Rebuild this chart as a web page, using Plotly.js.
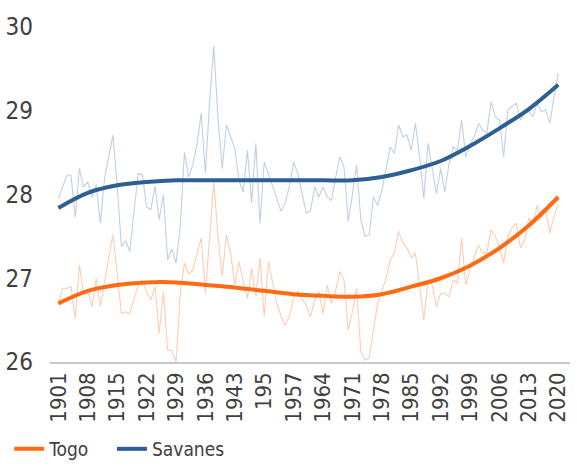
<!DOCTYPE html>
<html>
<head>
<meta charset="utf-8">
<script src="https://cdn.plot.ly/plotly-3.0.1.min.js"></script>
<style>
  html, body { margin: 0; padding: 0; background: #fff; }
  #chart { width: 577px; height: 468px; }
</style>
</head>
<body>
<div id="chart"></div>
<script>
// ---- data ----
const firstYear = 1901;
const lastYear = 2020;

const savanesAnnual = [
  27.95, 28.10, 28.23, 28.23, 27.73, 28.31, 28.09, 28.15, 27.97, 28.12,
  27.66, 28.20, 28.45, 28.71, 28.10, 27.38, 27.45, 27.32, 27.80, 28.25,
  28.23, 27.85, 27.82, 28.10, 27.70, 28.00, 27.22, 27.35, 27.18, 27.62,
  28.50, 28.21, 28.35, 28.60, 28.97, 28.25, 29.10, 29.77, 28.90, 28.31,
  28.83, 28.69, 28.55, 28.17, 28.03, 28.53, 27.90, 28.61, 27.66, 28.39,
  28.25, 28.09, 27.95, 27.80, 27.90, 28.10, 28.39, 28.25, 28.01, 27.78,
  27.80, 28.09, 27.97, 28.09, 27.97, 27.93, 28.20, 28.45, 28.33, 27.68,
  28.00, 28.35, 27.70, 27.50, 27.52, 27.97, 27.87, 28.05, 28.30, 28.57,
  28.49, 28.83, 28.69, 28.71, 28.53, 28.85, 28.45, 27.95, 28.61, 28.33,
  28.01, 28.31, 28.03, 28.37, 28.57, 28.53, 28.89, 28.45, 28.60, 28.69,
  28.85, 28.77, 28.73, 29.11, 28.93, 28.89, 28.45, 29.01, 29.05, 29.09,
  28.89, 28.97, 28.99, 28.93, 29.09, 28.99, 29.01, 28.85, 29.17, 29.45
];

const togoAnnual = [
  26.70, 26.88, 26.88, 26.90, 26.52, 27.16, 26.82, 26.86, 26.66, 27.00,
  26.66, 26.98, 27.25, 27.52, 27.06, 26.58, 26.60, 26.58, 26.75, 26.92,
  26.98, 26.84, 26.74, 26.90, 26.34, 26.84, 26.14, 26.14, 26.00, 26.82,
  27.18, 27.05, 27.10, 27.30, 27.48, 26.82, 27.55, 28.15, 27.50, 27.02,
  27.52, 27.30, 26.92, 27.20, 26.96, 26.76, 27.12, 26.78, 27.24, 26.54,
  27.20, 26.95, 26.70, 26.55, 26.44, 26.55, 26.76, 26.85, 26.75, 26.68,
  26.54, 26.74, 26.84, 26.58, 26.92, 26.70, 26.85, 27.08, 26.98, 26.38,
  26.60, 26.88, 26.12, 26.02, 26.05, 26.38, 26.70, 26.85, 27.00, 27.22,
  27.30, 27.56, 27.42, 27.36, 27.25, 27.30, 26.92, 26.50, 26.98, 26.92,
  26.66, 26.82, 26.82, 26.78, 26.98, 26.94, 27.48, 26.92, 27.10, 27.26,
  27.40, 27.30, 27.30, 27.58, 27.50, 27.38, 27.18, 27.50, 27.60, 27.66,
  27.36, 27.46, 27.72, 27.64, 27.87, 27.72, 27.81, 27.54, 27.74, 27.89
];

// trend lines, read at each labelled year
const trendYears = [1901, 1908, 1915, 1922, 1929, 1936, 1943, 1950, 1957,
                    1964, 1971, 1978, 1985, 1992, 1999, 2006, 2013, 2020];
const savanesTrend = [27.84, 28.02, 28.11, 28.15, 28.17, 28.17, 28.17, 28.17, 28.17,
                      28.17, 28.17, 28.21, 28.29, 28.40, 28.58, 28.79, 29.02, 29.31];
const togoTrend = [26.70, 26.85, 26.92, 26.95, 26.95, 26.92, 26.89, 26.85, 26.81,
                   26.79, 26.78, 26.81, 26.90, 27.00, 27.15, 27.36, 27.63, 27.97];

const tickYears = [1901, 1908, 1915, 1922, 1929, 1936, 1943, 1950, 1957,
                   1964, 1971, 1978, 1985, 1992, 1999, 2006, 2013, 2020];
const tickLabels = ["1901", "1908", "1915", "1922", "1929", "1936", "1943", "195", "1957",
                    "1964", "1971", "1978", "1985", "1992", "1999", "2006", "2013", "2020"];

const seriesNames = ["Togo", "Savanes"];

// ---- build ----
const years = [];
for (let y = firstYear; y <= lastYear; y++) years.push(y);

const FONT = '"DejaVu Sans Condensed", "Liberation Sans Narrow", sans-serif';
const ORANGE = '#ff6a13';
const BLUE = '#2d5f95';
const TXT = '#404040';

const traces = [
  { x: years, y: savanesAnnual, type: 'scatter', mode: 'lines', showlegend: false,
    line: { color: '#bfd0e4', width: 1.1 }, hoverinfo: 'skip' },
  { x: years, y: togoAnnual, type: 'scatter', mode: 'lines', showlegend: false,
    line: { color: '#fdcdb0', width: 1.1 }, hoverinfo: 'skip' },
  { x: trendYears, y: togoTrend, type: 'scatter', mode: 'lines', name: seriesNames[0],
    legend: 'legend',
    line: { color: ORANGE, width: 4, shape: 'spline', smoothing: 1 } },
  { x: trendYears, y: savanesTrend, type: 'scatter', mode: 'lines', name: seriesNames[1],
    legend: 'legend2',
    line: { color: BLUE, width: 4, shape: 'spline', smoothing: 1 } }
];

const legendCommon = {
  orientation: 'h', yref: 'container', y: -0.028, yanchor: 'bottom', xanchor: 'left',
  font: { family: FONT, size: 19, color: TXT }, itemwidth: 30, bgcolor: 'rgba(0,0,0,0)'
};

const layout = {
  width: 577, height: 468,
  margin: { l: 50, r: 7, t: 27, b: 106 },
  paper_bgcolor: '#ffffff', plot_bgcolor: '#ffffff',
  font: { family: FONT, color: TXT, size: 22 },
  xaxis: {
    range: [1899, 2022.8],
    tickmode: 'array', tickvals: tickYears, ticktext: tickLabels,
    tickangle: -90, tickfont: { family: FONT, size: 22, color: TXT },
    showgrid: false, zeroline: false,
    showline: true, linecolor: '#c8c8c8', linewidth: 1.5,
    ticks: '', automargin: false
  },
  yaxis: {
    range: [26, 30], tickvals: [26, 27, 28, 29, 30],
    tickfont: { family: FONT, size: 24, color: TXT },
    showgrid: false, zeroline: false, showline: false, ticks: '',
    ticklabelstandoff: 16, automargin: false
  },
  showlegend: true,
  legend: Object.assign({}, legendCommon, { xref: 'container', x: 0.016 }),
  legend2: Object.assign({}, legendCommon, { xref: 'container', x: 0.194 })
};

Plotly.newPlot('chart', traces, layout, { staticPlot: true, displayModeBar: false });
</script>
</body>
</html>
